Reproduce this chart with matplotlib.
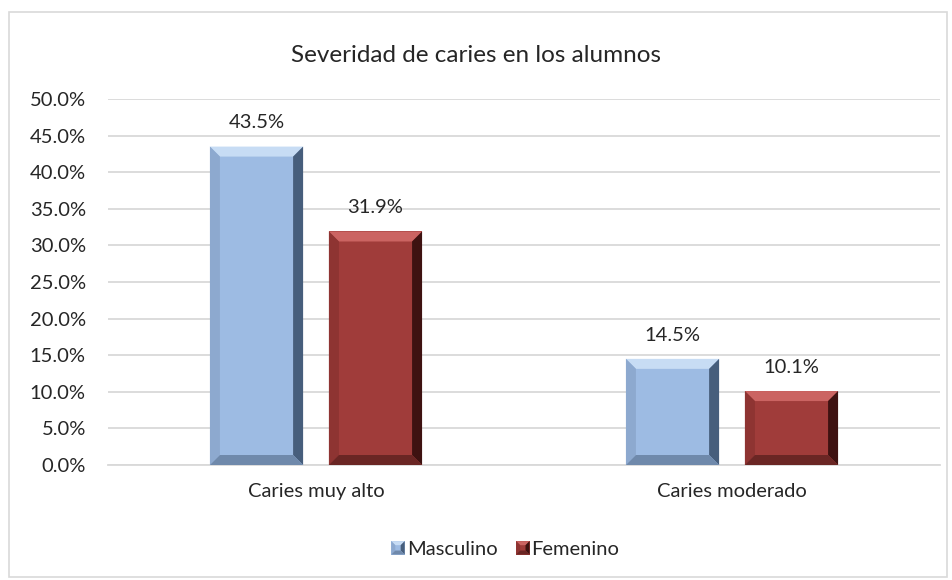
import numpy as np
import matplotlib.pyplot as plt
from matplotlib.patches import Polygon, Rectangle
from matplotlib.legend_handler import HandlerBase

plt.rcParams['font.family'] = ['Lato', 'DejaVu Sans']

categories = ['Caries muy alto', 'Caries moderado']
series = ['Masculino', 'Femenino']
masculino = [43.5, 14.5]
femenino = [31.9, 10.1]
yticks = [0, 5, 10, 15, 20, 25, 30, 35, 40, 45, 50]

# face, top, left, right, bottom shades
shades = {
    'Masculino': ['#9DBBE3', '#C7DCF4', '#8DA9CF', '#475E7C', '#6F89AB'],
    'Femenino': ['#A03C3A', '#CB6462', '#8E3432', '#3E1211', '#6A2624'],
}

fs = 14.5

fig = plt.figure(figsize=(9.52, 5.8), dpi=100)
ax = fig.add_axes([108 / 952, 1 - 465 / 580, 832 / 952, 366 / 580])

# chart border
fig.patches.append(Rectangle((9 / 952, 3 / 580), 938 / 952, 565 / 580,
                             transform=fig.transFigure, fill=False,
                             edgecolor='#D9D9D9', linewidth=1.2, zorder=0))

ax.set_xlim(-0.5, 1.5)
ax.set_ylim(0, 50)
ax.set_yticks(yticks)
ax.set_yticklabels([f'{v:.1f}%' for v in yticks], fontsize=fs, color='#262626')
ax.yaxis.grid(True, color='#D9D9D9', linewidth=1.3)
ax.set_axisbelow(True)
for s in ax.spines.values():
    s.set_visible(False)
ax.spines['bottom'].set_visible(True)
ax.spines['bottom'].set_color('#D9D9D9')
ax.spines['bottom'].set_linewidth(1.3)
ax.tick_params(axis='both', length=0)
ax.tick_params(axis='y', pad=16)
ax.set_xticks(range(len(categories)))
ax.set_xticklabels(categories, fontsize=fs, color='#262626')
ax.tick_params(axis='x', pad=13)

width = 0.224
offset = 0.143
bx = 10 / 416   # bevel in data x
by = 10 / 366 * 50  # bevel in data y


def bevel_bar(x0, x1, h, cols, z=3):
    face, top, left, right, bottom = cols
    bxx = min(bx, (x1 - x0) / 2)
    byy = min(by, h / 2)
    ax.add_patch(Rectangle((x0, 0), x1 - x0, h, facecolor=face, edgecolor='none', zorder=z))
    ax.add_patch(Polygon([(x0, h), (x1, h), (x1 - bxx, h - byy), (x0 + bxx, h - byy)],
                         facecolor=top, edgecolor='none', zorder=z))
    ax.add_patch(Polygon([(x0, 0), (x0, h), (x0 + bxx, h - byy), (x0 + bxx, byy)],
                         facecolor=left, edgecolor='none', zorder=z))
    ax.add_patch(Polygon([(x1, 0), (x1, h), (x1 - bxx, h - byy), (x1 - bxx, byy)],
                         facecolor=right, edgecolor='none', zorder=z))
    ax.add_patch(Polygon([(x0, 0), (x1, 0), (x1 - bxx, byy), (x0 + bxx, byy)],
                         facecolor=bottom, edgecolor='none', zorder=z))


for name, vals, sign in [('Masculino', masculino, -1), ('Femenino', femenino, 1)]:
    for i, v in enumerate(vals):
        c = i + sign * offset
        bevel_bar(c - width / 2, c + width / 2, v, shades[name])
        ax.annotate(f'{v:.1f}%', (c, v), xytext=(0, 11), textcoords='offset points',
                    ha='center', va='bottom', fontsize=fs, color='#262626')

fig.text(476 / 952, 1 - 55 / 580, 'Severidad de caries en los alumnos',
         ha='center', va='center', fontsize=17.5, color='#262626')


class BevelHandler(HandlerBase):
    def create_artists(self, legend, orig, xd, yd, w, h, fontsize, trans):
        cols = shades[orig.get_label()]
        s = h * 0.95
        x0 = xd + w - s
        y0 = yd
        b = s * 0.3
        arts = [
            Rectangle((x0, y0), s, s, facecolor=cols[0], edgecolor='none', transform=trans),
            Polygon([(x0, y0 + s), (x0 + s, y0 + s), (x0 + s - b, y0 + s - b), (x0 + b, y0 + s - b)],
                    facecolor=cols[1], edgecolor='none', transform=trans),
            Polygon([(x0, y0), (x0, y0 + s), (x0 + b, y0 + s - b), (x0 + b, y0 + b)],
                    facecolor=cols[2], edgecolor='none', transform=trans),
            Polygon([(x0 + s, y0), (x0 + s, y0 + s), (x0 + s - b, y0 + s - b), (x0 + s - b, y0 + b)],
                    facecolor=cols[3], edgecolor='none', transform=trans),
            Polygon([(x0, y0), (x0 + s, y0), (x0 + s - b, y0 + b), (x0 + b, y0 + b)],
                    facecolor=cols[4], edgecolor='none', transform=trans),
        ]
        return arts


handles = [Rectangle((0, 0), 1, 1, label=n) for n in series]
fig.legend(handles, series, handler_map={Rectangle: BevelHandler()},
           loc='center', bbox_to_anchor=(505 / 952, 1 - 549 / 580), ncol=2,
           frameon=False, fontsize=fs, handlelength=0.7, handleheight=0.7,
           handletextpad=0.1, columnspacing=0.9, labelcolor='#262626')

fig.savefig('out.png', dpi=100)
